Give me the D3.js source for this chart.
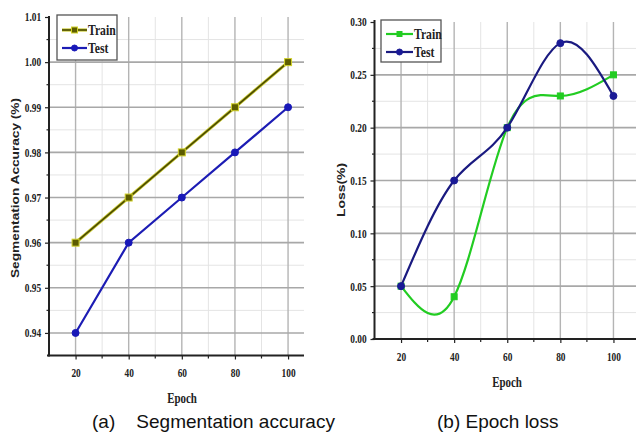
<!DOCTYPE html>
<html>
<head>
<meta charset="utf-8">
<script src="https://cdn.jsdelivr.net/npm/d3@7"></script>
<style>
  html, body { margin: 0; padding: 0; background: #fff; }
  svg { display: block; }
</style>
</head>
<body>
<svg id="chart" width="636" height="434"></svg>
<script>
// Epochs shared by both panels
const epochs = [20, 40, 60, 80, 100];

// (a) Segmentation accuracy
const accTrain = [0.96, 0.97, 0.98, 0.99, 1.00];
const accTest  = [0.94, 0.96, 0.97, 0.98, 0.99];
const accTicks = [0.94, 0.95, 0.96, 0.97, 0.98, 0.99, 1.00, 1.01];

// (b) Epoch loss
const lossTrain = [0.05, 0.04, 0.20, 0.23, 0.25];
const lossTest  = [0.05, 0.15, 0.20, 0.28, 0.23];
const lossTicks = [0.00, 0.05, 0.10, 0.15, 0.20, 0.25, 0.30];

const seriesNames = ["Train", "Test"];
const captions = ["(a)    Segmentation accuracy", "(b) Epoch loss"];

const svg = d3.select("#chart");
const SX = 0.78; // horizontal squeeze of the serif labels
const serif = "'Liberation Serif', 'Times New Roman', serif";
const sans = "'Liberation Sans', Arial, sans-serif";

function panel(cfg) {
  const g = svg.append("g");
  const x = d3.scaleLinear().domain(cfg.xDomain).range(cfg.xRange);
  const y = d3.scaleLinear().domain(cfg.yDomain).range(cfg.yRange);
  const [x0, x1] = cfg.xRange;
  const [y0, y1] = cfg.yRange;

  // minor grid
  const g1 = g.append("g");
  g1.selectAll("line.mx").data(cfg.xMinor).join("line")
    .attr("x1", d => x(d)).attr("x2", d => x(d))
    .attr("y1", y0).attr("y2", y1)
    .attr("stroke", "#e4e4e4").attr("stroke-width", 1);
  g1.selectAll("line.my").data(cfg.yMinor).join("line")
    .attr("x1", x0).attr("x2", x1)
    .attr("y1", d => y(d)).attr("y2", d => y(d))
    .attr("stroke", "#e4e4e4").attr("stroke-width", 1);
  // major grid
  g1.selectAll("line.gx").data(epochs).join("line")
    .attr("x1", d => x(d)).attr("x2", d => x(d))
    .attr("y1", y0).attr("y2", y1)
    .attr("stroke", "#b4b4b4").attr("stroke-width", 1.4);
  g1.selectAll("line.gy").data(cfg.yGrid).join("line")
    .attr("x1", x0).attr("x2", x1)
    .attr("y1", d => y(d)).attr("y2", d => y(d))
    .attr("stroke", "#a8a8a8").attr("stroke-width", 1.6);

  // axes
  const ax = g.append("g").attr("transform", `translate(0,${y0})`)
    .call(d3.axisBottom(x).tickValues(epochs).tickFormat(d3.format("d"))
      .tickSizeInner(4).tickSizeOuter(0).tickPadding(9));
  ax.append("g").selectAll("line").data(cfg.xMinor).join("line")
    .attr("x1", d => x(d)).attr("x2", d => x(d)).attr("y1", 0).attr("y2", 3)
    .attr("stroke", "#222").attr("stroke-width", 1.2);
  const ay = g.append("g").attr("transform", `translate(${x0},0)`)
    .call(d3.axisLeft(y).tickValues(cfg.yTicks).tickFormat(d3.format(".2f"))
      .tickSizeInner(4).tickSizeOuter(0).tickPadding(6));
  ay.append("g").selectAll("line").data(cfg.yMinor).join("line")
    .attr("x1", 0).attr("x2", -2.5).attr("y1", d => y(d)).attr("y2", d => y(d))
    .attr("stroke", "#222").attr("stroke-width", 1.2);
  [ax, ay].forEach(a => {
    a.select(".domain").attr("stroke", "#222").attr("stroke-width", 2);
    a.selectAll(".tick line").attr("stroke", "#222").attr("stroke-width", 1.2);
    a.selectAll(".tick text")
      .attr("font-family", serif).attr("font-size", 12).attr("font-weight", "bold")
      .attr("fill", "#222");
  });
  ax.select(".domain").attr("d", `M${x0 - 2},0H${x1}`);
  ay.select(".domain").attr("d", `M0,${cfg.yTop}V${y0 + 1}`);
  ax.selectAll(".tick text").attr("transform", `scale(${SX},1)`)
    .attr("x", 0);
  ay.selectAll(".tick text").attr("transform", `scale(${SX},1)`);

  // series
  const line = d3.line().x(d => x(d[0])).y(d => y(d[1])).curve(cfg.curve);
  cfg.series.forEach(s => {
    const pts = epochs.map((e, i) => [e, s.values[i]]);
    if (s.halo) {
      g.append("path").datum(pts).attr("d", line).attr("fill", "none")
        .attr("stroke", s.halo).attr("stroke-width", 3.2);
    }
    g.append("path").datum(pts).attr("d", line).attr("fill", "none")
      .attr("stroke", s.color).attr("stroke-width", s.width);
    drawMarkers(g, pts.map(p => [x(p[0]), y(p[1])]), s);
  });

  // legend
  const L = cfg.legend;
  g.append("rect").attr("x", L.x).attr("y", L.y).attr("width", L.w).attr("height", L.h)
    .attr("fill", "#fff").attr("stroke", "#555").attr("stroke-width", 1.3);
  cfg.series.forEach((s, i) => {
    const ly = L.rows[i];
    if (s.halo) {
      g.append("line").attr("x1", L.lx0).attr("x2", L.lx1).attr("y1", ly).attr("y2", ly)
        .attr("stroke", s.halo).attr("stroke-width", 3.2);
    }
    g.append("line").attr("x1", L.lx0).attr("x2", L.lx1).attr("y1", ly).attr("y2", ly)
      .attr("stroke", s.color).attr("stroke-width", s.width);
    drawMarkers(g, [[(L.lx0 + L.lx1) / 2, ly]], Object.assign({}, s, {size: s.size - 1}));
    g.append("text")
      .attr("transform", `translate(${L.lx1 + 1},${ly + 5}) scale(${SX},1)`)
      .attr("font-family", serif).attr("font-size", 15).attr("font-weight", "bold")
      .attr("fill", "#222").text(seriesNames[i]);
  });

  // axis titles
  g.append("text")
    .attr("transform", `translate(${cfg.xTitle[0]},${cfg.xTitle[1]}) scale(${SX},1)`)
    .attr("text-anchor", "middle").attr("font-family", serif).attr("font-size", 14)
    .attr("font-weight", "bold").attr("fill", "#222").text("Epoch");
  g.append("text")
    .attr("transform", `translate(${cfg.yTitle[0]},${cfg.yTitle[1]}) rotate(-90)`)
    .attr("text-anchor", "middle").attr("font-family", sans).attr("font-size", 11)
    .attr("font-weight", "bold").attr("fill", "#222")
    .attr("textLength", cfg.yTitle[2]).attr("lengthAdjust", "spacingAndGlyphs")
    .text(cfg.yLabel);

  // caption
  svg.append("text").attr("x", cfg.caption[0]).attr("y", cfg.caption[1])
    .attr("font-family", sans).attr("font-size", 19).attr("fill", "#111")
    .style("white-space", "pre").text(cfg.captionText);
}

function drawMarkers(g, pts, s) {
  if (s.shape === "square") {
    g.selectAll(null).data(pts).join("rect")
      .attr("x", d => d[0] - s.size / 2).attr("y", d => d[1] - s.size / 2)
      .attr("width", s.size).attr("height", s.size)
      .attr("fill", s.fill).attr("stroke", s.stroke).attr("stroke-width", 1);
  } else {
    g.selectAll(null).data(pts).join("circle")
      .attr("cx", d => d[0]).attr("cy", d => d[1]).attr("r", s.size / 2)
      .attr("fill", s.fill).attr("stroke", s.stroke).attr("stroke-width", 1);
  }
}

panel({
  xDomain: [10, 106], xRange: [49, 304],
  yDomain: [0.935, 1.01], yRange: [355.5, 17], yTop: 16,
  yTicks: accTicks,
  yGrid: accTicks.slice(0, 7),
  yMinor: d3.range(7).map(i => +(0.945 + i * 0.01).toFixed(3)),
  xMinor: [30, 50, 70, 90],
  curve: d3.curveLinear,
  series: [
    {values: accTrain, color: "#4a4a00", halo: "#c8c830", width: 1.6,
     shape: "square", size: 7, fill: "#5c5c00", stroke: "#d2d22a"},
    {values: accTest, color: "#1c1cb4", width: 2.2,
     shape: "circle", size: 7, fill: "#1818b8", stroke: "#1818b8"}
  ],
  legend: {x: 57, y: 15, w: 60, h: 45, rows: [30, 48], lx0: 62, lx1: 87},
  xTitle: [182, 403], yTitle: [19, 188, 180],
  yLabel: "Segmentation Accuracy (%)",
  caption: [92, 428], captionText: captions[0]
});

panel({
  xDomain: [10, 110], xRange: [374.5, 640],
  yDomain: [0, 0.30], yRange: [339, 22], yTop: 20,
  yTicks: lossTicks,
  yGrid: lossTicks.slice(1, 6),
  yMinor: d3.range(6).map(i => +(0.025 + i * 0.05).toFixed(3)),
  xMinor: [30, 50, 70, 90],
  curve: d3.curveNatural,
  series: [
    {values: lossTrain, color: "#22cc22", width: 2.2,
     shape: "square", size: 6, fill: "#22cc22", stroke: "#22cc22"},
    {values: lossTest, color: "#1a1a80", width: 2.2,
     shape: "circle", size: 7, fill: "#1a1a96", stroke: "#1a1a96"}
  ],
  legend: {x: 381, y: 20, w: 60, h: 42, rows: [34, 52], lx0: 386, lx1: 413},
  xTitle: [507, 387], yTitle: [345, 190, 54],
  yLabel: "Loss(%)",
  caption: [437, 428], captionText: captions[1]
});
</script>
</body>
</html>
